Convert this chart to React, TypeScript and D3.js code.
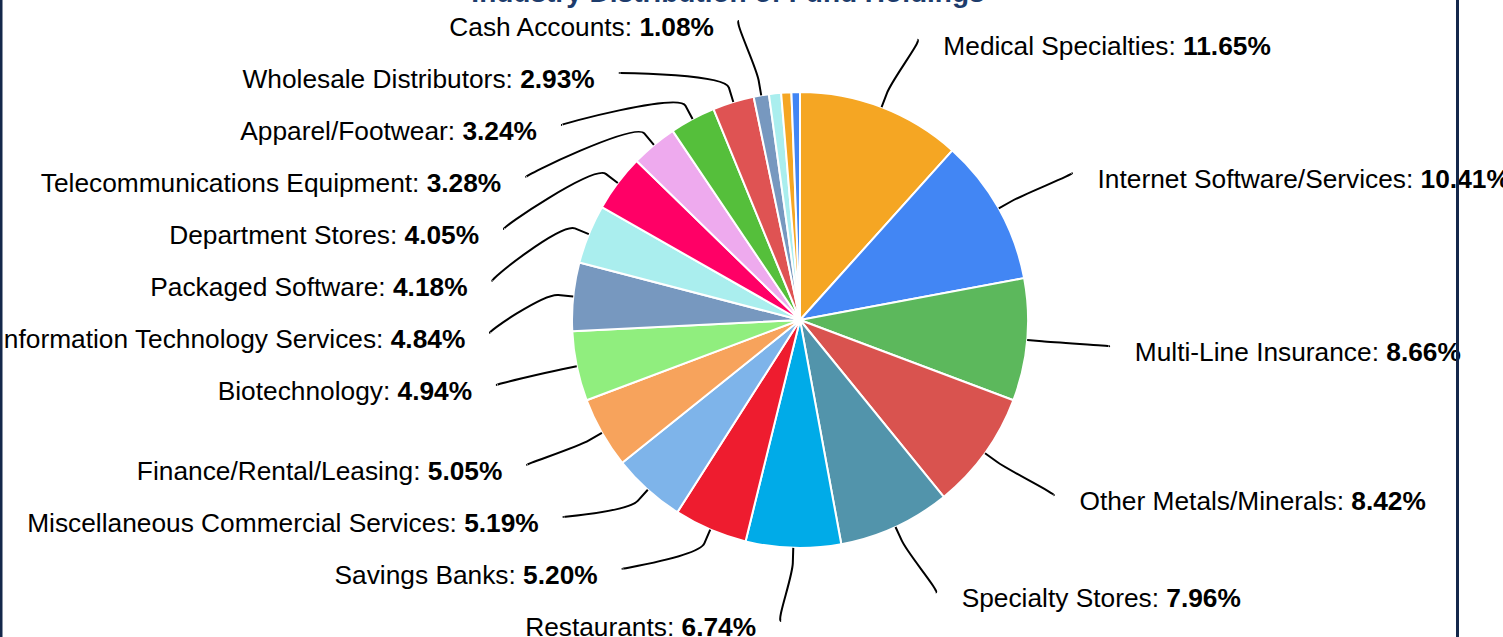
import React from "react";
import * as d3 from "d3";

const categories: string[] = [
  "Medical Specialties",
  "Internet Software/Services",
  "Multi-Line Insurance",
  "Other Metals/Minerals",
  "Specialty Stores",
  "Restaurants",
  "Savings Banks",
  "Miscellaneous Commercial Services",
  "Finance/Rental/Leasing",
  "Biotechnology",
  "Information Technology Services",
  "Packaged Software",
  "Department Stores",
  "Telecommunications Equipment",
  "Apparel/Footwear",
  "Wholesale Distributors",
  "Cash Accounts",
  "Other A",
  "Other B",
  "Other C",
];

const values: number[] = [
  11.65, 10.41, 8.66, 8.42, 7.96, 6.74, 5.2, 5.19, 5.05, 4.94, 4.84, 4.18, 4.05,
  3.28, 3.24, 2.93, 1.08, 0.86, 0.72, 0.6,
];

const colors: string[] = [
  "#f5a623", "#4286f4", "#5cb85c", "#d9534f", "#5294ab", "#00abe8", "#ee1c2f",
  "#7eb4ea", "#f7a35c", "#90ee7e", "#7798bf", "#aaeeee", "#ff0066", "#eeaaee",
  "#55bf3b", "#df5353", "#7798bf", "#aaeeee", "#f5a623", "#4286f4",
];

const title = "Industry Distribution of Fund Holdings";

const W = 1503;
const H = 637;

type Lab = {
  i: number;
  mid: number;
  right: boolean;
  natY: number;
  y: number;
  x: number;
};

function distribute(targets: number[], size: number, lo: number, hi: number): number[] {
  let groups = targets.map((t, i) => ({ idx: [i], tmin: t, tmax: t }));
  const place = (g: { idx: number[]; tmin: number; tmax: number }) => {
    const len = g.idx.length * size;
    return Math.min(Math.max(lo, (g.tmin + g.tmax) / 2 - len / 2), hi - len);
  };
  let changed = true;
  while (changed) {
    changed = false;
    for (let k = 0; k < groups.length - 1; k++) {
      const a = groups[k];
      const b = groups[k + 1];
      if (place(a) + a.idx.length * size > place(b) + 0.001) {
        groups.splice(k, 2, {
          idx: a.idx.concat(b.idx),
          tmin: Math.min(a.tmin, b.tmin),
          tmax: Math.max(a.tmax, b.tmax),
        });
        changed = true;
        break;
      }
    }
  }
  const out: number[] = new Array(targets.length);
  groups.forEach((g) => {
    const s = place(g);
    g.idx.forEach((ix, k) => {
      out[ix] = s + size * (k + 0.5);
    });
  });
  return out;
}

export default function App() {
  const cx = 800;
  const cy = 320;
  const r = 228;
  const labelR = 300;
  const padX = 10;
  const connOffset = 15;
  const spacing = 52;
  const lo = cy - 325;
  const hi = cy + 327;

  const pie = d3.pie<number>().sort(null).value((d) => d);
  const arcs = pie(values);
  const arcGen = d3.arc<d3.PieArcDatum<number>>().innerRadius(0).outerRadius(r);

  const labs: Lab[] = [];
  arcs.forEach((a, i) => {
    if (values[i] < 1) return;
    const mid = (a.startAngle + a.endAngle) / 2;
    labs.push({
      i,
      mid,
      right: mid <= Math.PI,
      natY: cy - Math.cos(mid) * labelR,
      y: 0,
      x: 0,
    });
  });

  [true, false].forEach((side) => {
    const group = labs.filter((l) => l.right === side).sort((a, b) => a.natY - b.natY);
    const ys = distribute(group.map((l) => l.natY), spacing, lo, hi);
    group.forEach((l, k) => {
      l.y = ys[k];
      const clamped = l.y - spacing / 2 <= lo + 2 || l.y + spacing / 2 >= hi - 2;
      const yy = clamped ? l.natY : l.y;
      const dy = yy - cy;
      const dx = Math.sqrt(Math.max(0, labelR * labelR - dy * dy)) + padX;
      l.x = cx + (side ? dx : -dx);
    });
  });

  const font = "'Liberation Sans', Arial, Helvetica, sans-serif";

  return (
    <svg
      width={W}
      height={H}
      style={{ position: "absolute", left: 0, top: 0, background: "#fff" }}
      fontFamily={font}
    >
      <rect x={0} y={0} width={W} height={H} fill="#ffffff" />
      <text
        x={728}
        y={2}
        textAnchor="middle"
        fontSize={28}
        fontWeight="bold"
        fill="#1d3c6c"
      >
        {title}
      </text>
      <g>
        {arcs.map((a, i) => (
          <path
            key={i}
            d={arcGen(a) || ""}
            transform={`translate(${cx},${cy})`}
            fill={colors[i]}
            stroke="#ffffff"
            strokeWidth={2}
            strokeLinejoin="round"
          />
        ))}
      </g>
      <g>
        {labs.map((l) => {
          const sx = Math.sin(l.mid);
          const sy = -Math.cos(l.mid);
          const tx = cx + sx * r;
          const ty = cy + sy * r;
          const bx = cx + sx * (r + connOffset);
          const by = cy + sy * (r + connOffset);
          const c2x = 2 * bx - tx;
          const c2y = 2 * by - ty;
          const c1x = l.x + (l.right ? 5 : -5);
          const path = d3.path();
          path.moveTo(l.x, l.y);
          path.bezierCurveTo(c1x, l.y, c2x, c2y, bx, by);
          path.lineTo(tx, ty);
          return (
            <path
              key={"c" + l.i}
              d={path.toString()}
              fill="none"
              stroke="#000"
              strokeWidth={2}
            />
          );
        })}
      </g>
      <g>
        {labs.map((l) => (
          <text
            key={"t" + l.i}
            x={l.right ? l.x + 26 : l.x - 25}
            y={l.y + 15}
            textAnchor={l.right ? "start" : "end"}
            fontSize={26.3}
            fill="#000"
          >
            {categories[l.i] + ": "}
            <tspan fontWeight="bold">{values[l.i].toFixed(2) + "%"}</tspan>
          </text>
        ))}
      </g>
      <rect x={0} y={0} width={2.5} height={H} fill="#14284b" />
      <rect x={1456} y={0} width={3} height={H} fill="#14284b" />
    </svg>
  );
}
